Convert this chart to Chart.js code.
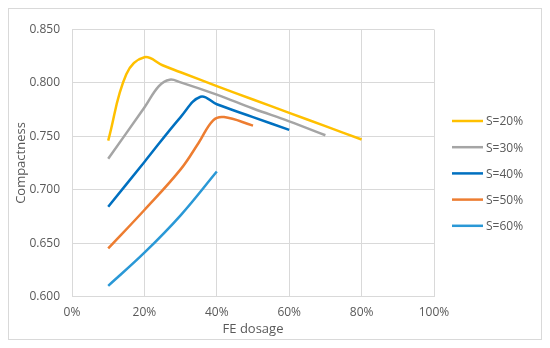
<!DOCTYPE html>
<html>
<head>
<meta charset="utf-8">
<title>Compactness vs FE dosage</title>
<script src="https://cdn.jsdelivr.net/npm/chart.js@4.4.1/dist/chart.umd.min.js"></script>
<style>
  html, body { margin: 0; padding: 0; background: #fff; }
  #wrap { width: 550px; height: 348px; }
</style>
</head>
<body>
<div id="wrap"><canvas id="chart" width="550" height="348"></canvas></div>
<script>
(function(){
  // series (FE dosage in %, compactness)
  const seriesLabels = ['S=20%', 'S=30%', 'S=40%', 'S=50%', 'S=60%'];
  const seriesColors = ['#FFC000', '#A5A5A5', '#0070C0', '#ED7D31', '#2A98D6'];

  const dosageS20  = [10, 15, 20, 25, 30, 40, 50, 60, 70, 80];
  const compactS20 = [0.746, 0.808, 0.824, 0.8165, 0.810, 0.797, 0.7845, 0.772, 0.7595, 0.747];

  const dosageS30  = [10, 20, 24, 27, 30, 40, 50, 60, 70];
  const compactS30 = [0.729, 0.777, 0.797, 0.803, 0.8005, 0.789, 0.776, 0.764, 0.751];

  const dosageS40  = [10, 20, 30, 35.5, 40, 50, 60];
  const compactS40 = [0.684, 0.726, 0.768, 0.787, 0.780, 0.768, 0.756];

  const dosageS50  = [10, 20, 30, 35, 39, 42, 50];
  const compactS50 = [0.645, 0.681, 0.719, 0.744, 0.765, 0.768, 0.760];

  const dosageS60  = [10, 20, 30, 40];
  const compactS60 = [0.610, 0.641, 0.676, 0.717];

  const xTicks = [0, 20, 40, 60, 80, 100];
  const yTicks = [0.600, 0.650, 0.700, 0.750, 0.800, 0.850];

  const dosages = [dosageS20, dosageS30, dosageS40, dosageS50, dosageS60];
  const compacts = [compactS20, compactS30, compactS40, compactS50, compactS60];

  const FONT = '"Open Sans", "DejaVu Sans", sans-serif';
  const TEXT = '#595959';
  const GRID = '#D9D9D9';

  const datasets = seriesLabels.map((label, i) => ({
    label,
    data: dosages[i].map((x, j) => ({ x, y: compacts[i][j] })),
    borderColor: seriesColors[i],
    backgroundColor: seriesColors[i],
    borderWidth: 2.5,
    pointRadius: 0,
    tension: 0.4,
    fill: false
  }));

  // Excel-style chart frame
  const frame = {
    id: 'frame',
    beforeDraw(chart) {
      const ctx = chart.ctx;
      ctx.save();
      ctx.fillStyle = '#fff';
      ctx.fillRect(0, 0, chart.width, chart.height);
      ctx.strokeStyle = GRID;
      ctx.lineWidth = 1;
      ctx.strokeRect(8.5, 8.5, 533, 331);
      ctx.restore();
    }
  };

  // legend on the right, one entry per dataset
  const sideLegend = {
    id: 'sideLegend',
    afterDraw(chart) {
      const ctx = chart.ctx;
      ctx.save();
      ctx.font = '12px ' + FONT;
      ctx.textBaseline = 'middle';
      ctx.textAlign = 'left';
      chart.data.datasets.forEach((ds, i) => {
        const y = 121 + i * 26.2;
        ctx.strokeStyle = ds.borderColor;
        ctx.lineWidth = 2.5;
        ctx.beginPath();
        ctx.moveTo(452, y);
        ctx.lineTo(483, y);
        ctx.stroke();
        ctx.fillStyle = TEXT;
        ctx.fillText(ds.label, 486, y + 1);
      });
      ctx.restore();
    }
  };

  new Chart(document.getElementById('chart').getContext('2d'), {
    type: 'line',
    data: { datasets },
    plugins: [frame, sideLegend],
    options: {
      responsive: false,
      animation: false,
      layout: { padding: { left: 9, top: 29.5, right: 116, bottom: 7 } },
      plugins: { legend: { display: false }, tooltip: { enabled: false } },
      scales: {
        x: {
          type: 'linear',
          min: 0, max: 100,
          afterBuildTicks: (s) => { s.ticks = xTicks.map(v => ({ value: v })); },
          afterFit: (s) => { s.height = 44.5; },
          ticks: { color: TEXT, font: { family: FONT, size: 12 }, padding: 9, callback: v => v + '%' },
          grid: { color: GRID, drawTicks: false },
          border: { color: GRID },
          title: { display: true, text: 'FE dosage', color: TEXT, font: { family: FONT, size: 13 }, padding: { top: 0, bottom: 4 } }
        },
        y: {
          min: 0.6, max: 0.85,
          afterBuildTicks: (s) => { s.ticks = yTicks.map(v => ({ value: v })); },
          afterFit: (s) => { s.width = 63; },
          ticks: { color: TEXT, font: { family: FONT, size: 12 }, padding: 12, callback: v => v.toFixed(3) },
          grid: { color: GRID, drawTicks: false },
          border: { color: GRID },
          title: { display: true, text: 'Compactness', color: TEXT, font: { family: FONT, size: 13 }, padding: { top: 4, bottom: 0 } }
        }
      }
    }
  });
})();
</script>
</body>
</html>
